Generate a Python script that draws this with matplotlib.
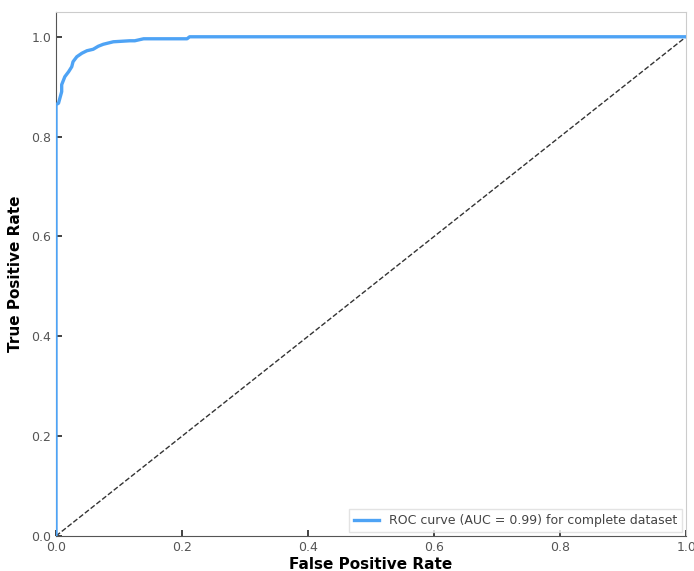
import matplotlib
matplotlib.use("Agg")
import matplotlib.pyplot as plt

plt.rcParams["font.family"] = "DejaVu Sans"

# ROC curve points
fpr = [0.0, 0.0, 0.004, 0.009, 0.009, 0.014, 0.020, 0.025, 0.027, 0.033, 0.041,
       0.049, 0.059, 0.067, 0.075, 0.091, 0.117, 0.125, 0.139, 0.208, 0.212, 1.0]
tpr = [0.0, 0.864, 0.867, 0.890, 0.904, 0.920, 0.930, 0.940, 0.950, 0.960, 0.967,
       0.972, 0.975, 0.981, 0.985, 0.990, 0.992, 0.992, 0.996, 0.996, 1.0, 1.0]
diag = [0.0, 1.0]
auc_label = "ROC curve (AUC = 0.99) for complete dataset"

fig = plt.figure(figsize=(6.94, 5.71), dpi=100)
ax = fig.add_axes([0.0807, 0.0613, 0.908, 0.918])

ax.plot(fpr, tpr, color="#4ea3f5", lw=2.4, label=auc_label, zorder=3)
ax.plot(diag, diag, color="#333333", lw=1.0, ls="--")

ax.set_xlim(0, 1.0)
ax.set_ylim(0, 1.05)
ax.set_xticks([0.0, 0.2, 0.4, 0.6, 0.8, 1.0])
ax.set_yticks([0.0, 0.2, 0.4, 0.6, 0.8, 1.0])
ax.tick_params(direction="in", length=4, width=1.2, colors="#222222",
               labelcolor="#555555", labelsize=9, top=False, right=False)

for side in ("top", "right"):
    ax.spines[side].set_color("#cccccc")
for side in ("bottom", "left"):
    ax.spines[side].set_color("#555555")

ax.set_xlabel("False Positive Rate", fontsize=11, fontweight="bold", labelpad=2)
ax.set_ylabel("True Positive Rate", fontsize=11, fontweight="bold", labelpad=6)

leg = ax.legend(loc="lower right", fontsize=9, frameon=True, fancybox=False,
                borderaxespad=0.3)
leg.get_frame().set_edgecolor("#dddddd")
for t in leg.get_texts():
    t.set_color("#444444")

fig.savefig("out.png", dpi=100)
